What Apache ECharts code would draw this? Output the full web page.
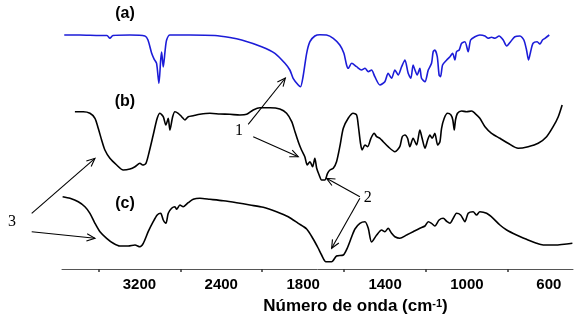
<!DOCTYPE html>
<html><head><meta charset="utf-8">
<script src="https://cdn.jsdelivr.net/npm/echarts@6/dist/echarts.min.js"></script>
<style>html,body{margin:0;padding:0;background:#fff}#c{width:580px;height:322px}</style>
</head><body><div id="c"></div>
<script>
// wavenumbers (cm-1) and offset transmittance (arbitrary units)
const waveA = [3934,3781,3585,3517,3488,3458,3292,3146,3116,3080,3055,3032,3009,2992,2983,2967,2948,2934,2902,2706,2462,2316,2201,2006,1938,1889,1865,1849,1824,1813,1800,1783,1767,1743,1718,1686,1653,1621,1601,1588,1580,1563,1539,1515,1498,1482,1466,1450,1425,1401,1385,1368,1352,1336,1319,1303,1287,1274,1263,1254,1243,1230,1222,1205,1189,1173,1165,1157,1145,1136,1129,1119,1099,1083,1070,1059,1051,1038,1026,1010,994,982,961,937,912,896,880,864,843,823,806,787,766,741,722,709,699,689,677,657,644,631,619,598];
const transA = [235,235,234.5,234.5,231.7,234.5,235,234,230,216.7,210.7,206.7,186.7,210,218,203,220,230,235,235,234.5,232.5,230,223.3,216.7,206.7,200,191.7,185,183.3,194,216.7,228.3,234,235.3,235,231.7,225,216.7,205,201.7,206.7,203.3,200,201.7,198.3,200,193.3,185,188.3,196.7,191.7,200,195,203.3,210,196.7,191.7,205,200,195,201.7,191.7,188.3,200,206.7,218.3,220,213.3,195,193.3,205,210,213.3,216.7,210,218.3,220,226.7,228.3,218.3,230,233.3,235,234,231.7,232.7,231.7,234,230,224,228.3,233.3,234,230,220,210,218.3,226.7,228.3,226,230,231.7,235];

const waveB = [3830,3748,3683,3634,3602,3569,3537,3488,3422,3358,3292,3243,3195,3168,3136,3104,3065,3026,2999,2967,2941,2918,2902,2875,2853,2821,2787,2755,2723,2674,2609,2511,2413,2316,2218,2152,2088,2022,1962,1914,1881,1856,1840,1824,1808,1792,1780,1767,1754,1743,1734,1722,1710,1694,1681,1669,1653,1637,1621,1604,1580,1556,1539,1531,1520,1512,1498,1485,1469,1453,1441,1425,1409,1385,1352,1328,1316,1303,1290,1279,1263,1246,1230,1219,1205,1192,1181,1170,1157,1143,1132,1124,1111,1095,1078,1069,1062,1056,1046,1026,1002,977,961,937,912,880,839,799,750,701,652,611,579,554,535];
const transB = [158.3,158.3,156.7,151.7,141.7,130,120,111.7,105,100,101,103.3,106.7,105,106.7,118.3,135,151.7,156.7,153.3,145,151.7,140,153.3,158.3,156.7,153.3,150,153.3,154.3,155.7,156.7,156,155.7,155,155.7,160,162.3,162.3,161,156.7,148.3,138.3,128.3,120,113.3,105,108.3,103.3,111.7,101.7,95,90,90,96.7,100,101.7,108.3,123.3,141.7,151.7,156.7,155,145,126.7,120,125,123.3,131.7,136.7,133.3,131.7,128.3,123.3,118.3,123.3,133.3,135,131.7,123.3,131.7,125,140,131.7,121.7,130,135,131.7,136.7,125,128.3,141.7,151.7,156.7,155,150,140,150,156.7,159,158.3,159,156.7,151.7,143.3,136.7,131.7,126.7,121.7,123.3,126.7,133.3,143.3,153.3,165];

const waveC = [3950,3878,3797,3732,3683,3634,3585,3520,3455,3390,3309,3243,3195,3162,3114,3065,3026,2992,2967,2941,2918,2885,2853,2836,2804,2772,2723,2674,2609,2511,2381,2250,2120,1995,1930,1873,1824,1783,1751,1727,1710,1689,1661,1637,1604,1585,1563,1547,1523,1498,1482,1466,1441,1417,1401,1385,1368,1352,1328,1295,1263,1230,1205,1189,1173,1157,1136,1116,1097,1083,1067,1051,1031,1010,994,970,953,937,904,872,839,806,758,709,660,628,562,513,485];
const transC = [73.3,71.7,68.3,63.3,56.7,46.7,38.3,31.7,26.7,24,24,25,23.3,26.7,38.3,48.3,55,56.7,50,46.7,56.7,61.7,63.3,60.7,65,63.3,67.3,70.7,71.7,70.7,69.3,67.3,65,62.7,58.3,53.3,46.7,41,31,22,15,8.3,8.3,14,15,21.7,33.3,41,46.7,48.3,41.7,28,35,40,38.3,41.7,36.7,33.3,31.7,35,38.3,41.7,44,48.3,46.7,44,50,51.7,48.3,46.7,51.7,56.7,55,48.3,56.7,58.3,55,58.3,56.7,51.7,45,40,35,30.7,26.7,25,25,26,26.7];

const tickLabelWaves = [3200, 2400, 1800, 1400, 1000, 600];
const tickMarkWaves = [3600, 2800, 2000, 1600, 1200, 800];

// annotations: text labels and arrows (in wavenumber / value units)
const annoTexts = [['(a)', 3341, 256, 'bold'], ['(b)', 3341, 168, 'bold'], ['(c)', 3341, 66, 'bold'],
                   ['1', 2228, 139, 'serif'], ['2', 1484, 72, 'serif'], ['3', 4445, 48, 'serif']];
const arrowFrom = [[2137,145.7],[2088,133.3],[1523,73.3],[1523,71.7],[4252,56.7],[4252,38.3]];
const arrowTo   = [[1887,192],[1824,113.3],[1686,91.7],[1661,21.7],[3634,111.7],[3634,31.7]];

// spectrometer scale: 4000-2000 compressed by factor 2
function toAxis(w) { return w > 2000 ? 2000 + (w - 2000) / 2 : w; }
function fromAxis(t) { return t > 2000 ? 2000 + (t - 2000) * 2 : t; }
function pts(ws, vs) { return ws.map((w, i) => [toAxis(w), vs[i]]); }

const FONT = 'Liberation Sans, Arial, sans-serif';
const chart = echarts.init(document.getElementById('c'), null, {renderer: 'canvas'});
const lineSeries = (data, color) => ({
  type: 'line', data: data, showSymbol: false, smooth: 0.25, silent: true,
  lineStyle: {color: color, width: 1.6}, itemStyle: {color: color}
});
chart.setOption({
  animation: false,
  backgroundColor: '#fff',
  grid: {left: 62, right: 7, top: 0, bottom: 53},
  xAxis: {
    type: 'value', inverse: true, min: 482, max: 2978,
    splitLine: {show: false},
    axisLine: {lineStyle: {color: '#555', width: 1}},
    axisTick: {show: true, length: 3, lineStyle: {color: '#333', width: 1.5}, customValues: tickMarkWaves.map(toAxis)},
    axisLabel: {
      customValues: tickLabelWaves.map(toAxis), formatter: v => String(Math.round(fromAxis(v))),
      color: '#000', fontWeight: 'bold', fontSize: 15, fontFamily: FONT, margin: 8
    },
    name: 'Número de onda (cm{sup|-1})', nameLocation: 'middle', nameGap: 29,
    nameTextStyle: {
      color: '#000', fontWeight: 'bold', fontSize: 17, fontFamily: FONT,
      padding: [0, 0, 0, 76],
      rich: {sup: {fontSize: 11, fontWeight: 'bold', color: '#000', fontFamily: FONT, verticalAlign: 'top', padding: [0, 0, 6, 0]}}
    }
  },
  yAxis: {type: 'value', min: 1, max: 270, show: false},
  series: [
    lineSeries(pts(waveA, transA), '#1c1cd8'),
    lineSeries(pts(waveB, transB), '#000'),
    lineSeries(pts(waveC, transC), '#000')
  ]
});

const P = (w, v) => chart.convertToPixel({gridIndex: 0}, [toAxis(w), v]);
const graphics = [];
annoTexts.forEach(([s, w, v, kind]) => {
  const p = P(w, v);
  graphics.push({type: 'text', x: p[0], y: p[1], silent: true, style: {
    text: s, align: 'center', verticalAlign: 'middle', fill: '#000',
    font: kind === 'bold' ? 'bold 16px "Liberation Sans", Arial, sans-serif' : '16px "Liberation Serif", "Times New Roman", serif'
  }});
});
arrowFrom.forEach((f, i) => {
  const a = P(f[0], f[1]), b = P(arrowTo[i][0], arrowTo[i][1]);
  const dx = b[0] - a[0], dy = b[1] - a[1], L = Math.hypot(dx, dy);
  const ux = dx / L, uy = dy / L, hl = 9, ang = 0.42;
  const h1 = [b[0] - hl * (ux * Math.cos(ang) - uy * Math.sin(ang)), b[1] - hl * (uy * Math.cos(ang) + ux * Math.sin(ang))];
  const h2 = [b[0] - hl * (ux * Math.cos(ang) + uy * Math.sin(ang)), b[1] - hl * (uy * Math.cos(ang) - ux * Math.sin(ang))];
  graphics.push({type: 'polyline', silent: true, shape: {points: [a, b]}, style: {stroke: '#000', lineWidth: 1.1, fill: null}});
  graphics.push({type: 'polyline', silent: true, shape: {points: [h1, b, h2]}, style: {stroke: '#000', lineWidth: 1.1, fill: null}});
});
chart.setOption({graphic: graphics});
</script></body></html>
